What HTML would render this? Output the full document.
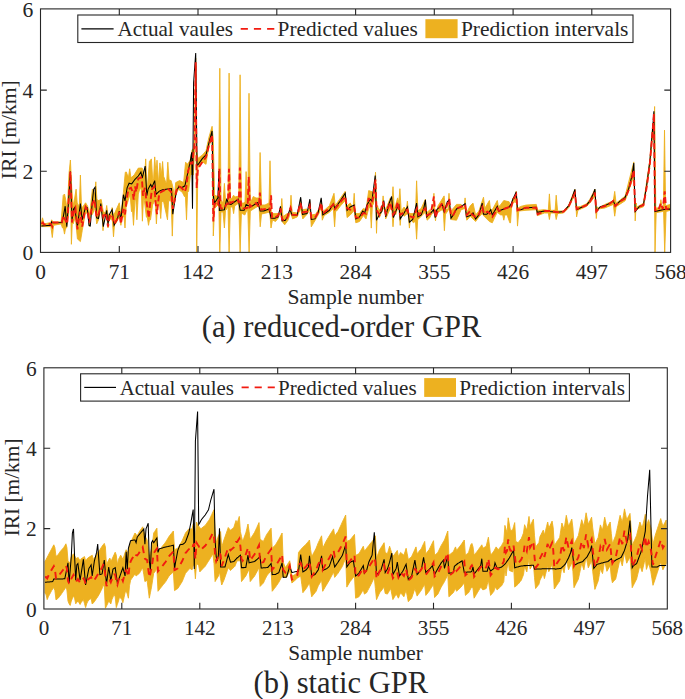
<!DOCTYPE html>
<html><head><meta charset="utf-8"><title>GPR prediction of IRI</title>
<style>
html,body{margin:0;padding:0;background:#fff;}
svg{display:block;}
svg{font-size:21.6px;}
text{font-family:"Liberation Serif","Times New Roman",serif;fill:#262626;}
</style></head>
<body>
<svg width="685" height="699" viewBox="0 0 685 699">
<rect width="685" height="699" fill="#fff"/>
<g style="font-size:21.60px">
<clipPath id="cp1"><rect x="40.5" y="8.9" width="630.1" height="243.5"/></clipPath>
<g clip-path="url(#cp1)">
<path d="M41.4,222.5 L42.5,217.8 L44.1,223.9 L50.9,222.5 L51.6,219.8 L53.0,221.9 L61.1,221.9 L63.2,195.4 L64.5,194.0 L65.9,200.8 L67.2,211.7 L69.0,173.6 L70.4,160.0 L71.7,187.2 L73.1,206.2 L74.7,198.1 L76.1,189.2 L77.2,203.0 L78.1,204.9 L79.3,205.7 L80.4,175.0 L81.5,207.1 L82.2,207.6 L85.6,202.8 L87.6,206.2 L89.7,214.4 L92.4,189.2 L94.7,194.1 L95.8,181.8 L96.9,198.8 L97.8,200.8 L101.2,199.4 L103.3,211.7 L105.6,212.8 L106.7,205.5 L107.8,213.9 L108.7,214.4 L111.0,214.4 L112.1,207.6 L113.2,214.4 L114.1,214.4 L119.3,202.8 L120.4,212.0 L121.2,211.7 L123.4,192.6 L125.3,172.2 L126.4,172.0 L127.7,176.0 L128.6,176.3 L129.7,168.8 L130.8,177.0 L131.7,177.3 L134.3,174.7 L138.3,168.1 L142.2,168.1 L144.6,176.7 L145.7,158.9 L146.8,184.4 L147.5,186.5 L149.4,161.5 L151.4,158.9 L152.7,179.9 L153.6,178.2 L154.7,156.9 L156.0,173.4 L157.0,160.2 L158.4,181.2 L158.8,180.4 L159.9,162.9 L161.2,176.0 L162.6,161.5 L163.7,177.1 L164.1,177.3 L165.8,182.6 L166.7,181.9 L167.8,162.2 L169.1,179.9 L171.1,180.6 L172.4,185.2 L174.4,195.7 L175.7,182.6 L179.6,180.6 L183.6,182.6 L185.6,162.2 L187.5,164.2 L190.2,160.2 L192.1,149.7 L193.3,149.0 L194.5,140.0 L195.7,58.0 L196.7,150.0 L197.9,158.4 L202.5,154.9 L206.0,150.8 L208.9,137.4 L212.1,126.3 L213.3,140.0 L214.6,195.0 L216.5,196.0 L218.5,196.0 L219.8,68.3 L221.0,200.0 L223.0,203.0 L224.4,183.4 L225.5,200.5 L226.0,200.0 L228.0,200.0 L229.1,73.1 L230.3,200.0 L232.0,198.0 L233.6,195.2 L235.0,197.0 L238.8,196.0 L240.1,74.8 L241.4,203.0 L244.0,203.0 L245.0,202.1 L246.1,171.6 L247.5,200.0 L247.9,200.4 L249.0,93.3 L250.3,203.0 L253.3,196.5 L256.0,198.0 L258.5,198.0 L259.0,199.2 L260.1,152.5 L261.5,205.0 L265.0,205.0 L269.0,203.0 L270.0,160.8 L271.3,212.0 L272.6,213.6 L278.1,213.6 L280.7,214.9 L281.8,198.5 L282.9,216.0 L283.4,216.2 L287.3,213.6 L289.9,213.0 L291.0,195.2 L292.1,212.4 L292.6,212.3 L297.2,213.0 L299.4,211.6 L300.5,197.9 L301.6,210.2 L302.5,209.7 L307.0,209.0 L308.6,211.2 L309.7,200.5 L310.8,214.3 L311.3,214.9 L315.6,214.3 L318.9,209.0 L320.1,209.6 L321.2,199.2 L322.3,210.5 L323.5,211.0 L329.4,205.7 L334.0,193.3 L335.1,204.6 L336.0,204.4 L340.6,197.9 L345.2,191.3 L346.3,204.7 L347.1,205.7 L350.3,203.1 L353.1,208.5 L354.2,193.3 L355.3,212.7 L355.8,213.6 L359.5,213.6 L363.4,208.4 L366.0,209.7 L368.7,190.6 L372.6,191.9 L374.4,197.8 L375.5,172.2 L376.6,205.1 L377.2,207.0 L379.8,209.7 L382.0,209.7 L383.1,195.9 L384.2,209.7 L385.7,209.7 L390.3,197.9 L391.9,202.4 L393.0,186.7 L394.3,209.7 L397.6,197.9 L398.8,202.4 L399.9,188.7 L401.2,211.0 L404.1,207.0 L406.3,209.8 L407.4,201.1 L408.5,212.5 L409.4,213.6 L413.3,213.6 L415.5,212.4 L416.6,180.8 L417.9,211.0 L421.2,208.4 L425.4,199.2 L426.5,211.9 L427.1,212.3 L429.8,209.9 L430.9,210.3 L432.8,212.3 L433.9,193.3 L435.0,214.5 L435.5,214.9 L438.1,205.7 L444.1,195.9 L445.4,208.4 L447.9,209.6 L449.0,193.3 L450.1,210.6 L451.0,211.0 L456.5,204.4 L461.1,204.4 L464.0,208.4 L465.1,197.9 L466.2,211.5 L466.8,212.3 L470.3,205.7 L473.0,203.1 L475.6,214.9 L478.9,211.0 L483.5,197.2 L484.8,208.4 L489.4,200.5 L490.5,209.4 L492.3,209.7 L497.3,200.5 L498.4,206.5 L499.9,205.7 L503.8,200.5 L509.1,201.8 L510.9,207.0 L512.9,197.9 L515.1,202.8 L516.2,191.3 L517.5,208.4 L520.8,206.4 L526.0,205.1 L536.3,204.4 L537.6,210.3 L544.4,209.7 L547.7,210.3 L548.3,210.3 L549.4,193.9 L550.5,210.3 L551.0,210.3 L554.7,210.3 L555.1,210.4 L556.2,195.2 L557.6,211.0 L563.5,211.0 L568.7,205.1 L574.9,189.3 L576.0,206.8 L577.0,207.0 L580.6,206.4 L586.5,203.8 L589.8,199.4 L593.3,192.6 L594.9,189.1 L596.3,209.1 L605.0,204.4 L613.3,200.8 L614.7,191.4 L616.1,203.2 L625.1,196.1 L633.8,161.9 L634.9,207.3 L635.5,207.9 L643.5,203.2 L649.9,159.6 L652.9,123.0 L653.5,139.5 L654.6,106.5 L655.8,207.9 L659.3,207.9 L659.8,207.7 L660.9,199.7 L662.0,207.0 L662.8,206.7 L663.4,206.5 L664.5,130.1 L665.6,205.8 L666.1,205.6 L670.4,204.4 L670.4,210.3 L666.1,211.5 L664.7,252.7 L663.6,211.5 L662.8,211.5 L656.2,212.6 L655.0,252.7 L653.9,118.3 L652.9,131.3 L649.9,166.7 L643.5,206.7 L636.9,209.1 L636.3,203.0 L635.2,220.9 L633.8,174.9 L632.2,180.8 L625.1,200.8 L616.1,206.7 L614.7,216.2 L613.3,204.4 L605.0,207.9 L598.0,209.1 L597.4,206.8 L596.3,218.5 L594.9,196.1 L593.3,198.5 L589.8,203.1 L586.5,206.4 L577.9,210.3 L576.6,216.9 L575.3,195.2 L573.3,197.9 L568.7,207.7 L563.5,213.0 L557.6,213.6 L556.2,219.5 L555.1,213.1 L554.7,213.0 L551.0,213.0 L550.5,213.0 L549.4,219.5 L548.3,213.0 L547.7,213.0 L544.4,213.0 L537.6,215.6 L536.3,209.7 L526.0,210.3 L518.8,211.0 L517.5,226.1 L516.2,196.5 L514.2,200.5 L511.6,207.0 L510.5,222.8 L509.8,222.8 L507.1,214.9 L504.9,214.9 L503.8,220.2 L502.7,214.9 L500.6,214.9 L497.3,212.3 L494.6,217.6 L492.3,222.8 L489.4,221.5 L484.1,216.2 L482.2,213.6 L478.9,216.9 L475.6,221.5 L470.3,216.2 L466.8,220.2 L465.1,208.4 L461.1,209.7 L456.5,220.2 L451.0,219.5 L449.3,208.4 L446.0,213.6 L445.5,213.1 L444.4,230.7 L443.3,210.9 L442.1,209.7 L438.1,212.3 L436.6,211.8 L435.5,220.8 L434.4,211.1 L433.9,211.0 L430.9,215.6 L429.8,217.8 L427.1,220.2 L425.4,212.3 L423.8,213.6 L418.6,218.9 L417.7,219.5 L416.6,239.2 L415.5,221.2 L413.3,222.8 L410.5,218.4 L409.4,228.1 L408.3,215.0 L407.4,213.6 L404.1,216.2 L401.3,212.8 L400.2,225.4 L399.1,210.2 L397.6,208.4 L395.6,214.9 L394.1,213.0 L393.0,226.8 L391.9,210.3 L390.3,208.4 L385.7,218.9 L384.6,208.4 L383.1,208.4 L379.4,217.6 L377.6,205.6 L376.5,233.3 L375.5,191.3 L373.3,204.4 L372.4,205.2 L371.3,228.1 L370.2,207.1 L368.7,208.4 L366.0,218.9 L363.4,215.6 L359.5,221.5 L355.8,222.8 L354.2,210.3 L350.3,214.9 L347.1,217.6 L345.2,200.5 L340.6,205.7 L336.6,211.0 L335.7,210.3 L334.6,226.8 L333.3,208.4 L329.4,212.3 L324.1,215.6 L322.3,220.2 L321.2,207.0 L318.9,213.6 L315.6,219.5 L311.3,226.8 L310.2,210.5 L309.7,209.7 L307.0,214.3 L302.8,218.9 L300.5,208.4 L297.2,216.9 L292.6,218.9 L290.6,212.3 L288.0,220.2 L284.7,224.8 L282.1,221.5 L280.5,212.3 L278.1,218.2 L275.5,221.5 L272.9,220.2 L272.3,221.0 L271.0,228.0 L269.9,213.3 L269.5,212.0 L266.0,213.0 L261.5,214.0 L260.2,226.8 L259.1,207.6 L258.5,206.0 L255.0,208.0 L250.3,211.0 L249.1,252.4 L247.8,210.0 L246.5,211.0 L244.8,215.0 L241.4,213.0 L240.1,252.4 L238.8,203.0 L236.0,205.0 L234.7,205.7 L233.6,213.6 L232.5,206.8 L232.0,207.0 L230.3,207.0 L229.1,252.4 L228.0,207.0 L226.0,210.0 L225.5,210.3 L224.4,228.0 L223.0,212.0 L221.0,212.0 L219.8,252.4 L218.8,203.0 L217.0,206.0 L214.6,208.0 L213.3,236.0 L212.1,137.4 L208.9,146.7 L207.2,156.0 L206.0,164.3 L202.5,161.9 L197.9,167.8 L196.7,252.4 L195.7,66.0 L194.5,152.0 L193.3,175.0 L192.0,175.0 L190.6,173.6 L188.6,191.3 L187.6,192.5 L186.5,219.8 L185.4,195.5 L184.5,196.7 L182.5,192.6 L178.4,189.2 L175.7,195.4 L174.0,204.9 L173.4,204.2 L172.3,236.1 L171.2,201.8 L170.2,200.8 L168.6,200.8 L167.5,219.8 L163.4,200.8 L161.8,202.4 L160.7,218.5 L159.6,204.6 L158.0,206.2 L157.5,205.4 L156.4,223.9 L155.3,201.9 L154.6,200.8 L152.6,204.9 L150.5,219.8 L149.6,219.2 L148.5,225.3 L147.4,217.7 L146.4,217.1 L144.4,200.8 L143.5,197.7 L142.4,221.2 L141.3,190.3 L140.3,187.2 L138.3,194.0 L136.9,219.8 L135.8,198.9 L134.9,200.8 L133.5,225.3 L132.4,208.7 L131.5,211.7 L130.1,194.0 L128.1,200.8 L126.1,207.6 L125.0,228.0 L123.9,215.3 L123.4,217.1 L122.0,217.1 L120.9,225.3 L119.8,217.1 L119.3,217.1 L115.5,223.9 L114.6,223.0 L113.5,236.8 L112.4,220.8 L110.1,218.5 L109.1,218.2 L108.0,228.0 L106.9,217.4 L106.0,217.1 L104.1,214.1 L103.0,230.7 L101.9,210.6 L100.8,208.9 L98.5,219.8 L96.7,223.9 L95.1,207.6 L92.4,214.4 L90.5,214.4 L89.4,226.6 L88.3,214.4 L87.6,214.4 L85.6,211.7 L82.2,230.7 L80.4,241.6 L77.4,238.9 L75.4,217.1 L73.1,223.9 L72.5,216.7 L71.4,244.3 L70.4,187.2 L68.6,214.4 L66.6,228.0 L65.6,228.0 L64.5,234.1 L63.4,228.0 L62.5,228.0 L61.1,223.9 L53.6,225.3 L52.3,237.5 L50.9,226.6 L41.4,226.6Z" fill="#EDB120" stroke="#EDB120" stroke-width="0.9" stroke-linejoin="miter"/>
<path d="M41.4,225.9 L50.9,225.3 L51.6,221.9 L52.4,222.8 L61.8,222.5 L63.2,217.1 L65.2,206.2 L66.8,226.6 L68.6,200.8 L70.4,171.6 L72.0,219.8 L73.6,208.9 L74.7,207.6 L77.4,226.6 L80.4,203.5 L82.2,219.8 L85.6,206.9 L87.2,207.6 L89.0,225.3 L90.3,225.9 L92.4,200.8 L93.7,189.2 L95.1,187.2 L96.7,217.8 L98.5,218.5 L100.8,203.5 L103.3,226.6 L106.7,210.3 L108.0,223.9 L109.4,214.4 L112.1,209.6 L114.1,225.3 L117.5,218.5 L119.3,211.0 L120.9,219.8 L123.4,194.7 L125.0,200.8 L127.1,187.8 L129.1,183.2 L131.7,183.9 L135.0,179.3 L138.3,176.0 L140.9,172.0 L142.2,178.0 L145.2,166.1 L146.8,195.7 L148.1,189.1 L150.7,184.5 L152.0,187.2 L154.7,180.6 L156.0,194.4 L159.3,191.1 L162.6,189.8 L167.8,188.9 L171.5,188.5 L172.8,214.1 L174.4,203.6 L176.4,191.1 L179.0,186.5 L181.6,187.8 L184.9,185.8 L187.5,174.0 L190.2,161.5 L191.7,152.3 L192.5,208.8 L193.6,82.8 L195.7,53.0 L197.0,165.4 L197.9,164.8 L202.5,158.4 L206.0,154.9 L208.9,143.2 L212.1,131.0 L213.0,180.0 L213.6,197.9 L214.6,203.1 L217.9,197.9 L218.9,170.9 L219.4,210.3 L224.4,209.7 L226.8,198.5 L228.4,203.8 L231.0,204.4 L238.2,199.2 L240.2,210.3 L244.1,210.3 L246.1,204.4 L250.7,207.0 L257.9,202.5 L260.2,211.0 L263.8,211.0 L269.1,209.0 L271.1,218.2 L274.9,218.2 L278.1,216.9 L280.5,206.4 L282.1,220.8 L285.4,220.2 L287.3,216.9 L290.0,209.0 L291.9,214.9 L297.2,214.9 L300.7,197.2 L302.5,214.3 L307.0,213.6 L309.9,199.2 L311.3,219.5 L314.9,218.9 L318.2,212.3 L321.2,197.9 L322.8,214.9 L329.4,210.3 L333.3,203.8 L334.9,208.4 L340.6,200.5 L345.2,193.3 L347.1,210.3 L350.3,207.0 L354.2,205.1 L355.8,218.9 L359.5,216.9 L362.7,211.0 L364.7,213.0 L366.7,205.7 L370.0,199.2 L371.9,201.1 L375.2,175.5 L376.5,220.2 L379.8,213.6 L381.8,211.6 L383.8,200.5 L385.7,216.9 L388.4,205.7 L391.6,196.5 L393.4,217.6 L396.9,208.4 L398.9,205.1 L400.2,218.9 L404.1,213.0 L407.4,207.0 L409.4,222.2 L412.7,219.5 L416.6,203.1 L417.9,216.9 L421.2,214.9 L423.8,208.4 L425.4,199.8 L426.7,216.9 L429.8,213.4 L430.3,213.6 L433.5,209.7 L435.2,217.6 L436.8,209.7 L442.1,204.4 L444.1,211.6 L447.3,201.8 L449.3,199.8 L451.0,218.2 L453.3,214.9 L456.5,209.0 L460.5,207.0 L465.1,203.8 L466.4,216.9 L470.3,215.6 L473.0,213.0 L475.6,218.9 L478.9,214.9 L482.2,203.1 L483.5,214.3 L486.8,214.3 L489.4,211.6 L490.7,209.7 L492.3,214.9 L497.3,206.4 L498.6,211.0 L503.8,209.0 L509.1,207.0 L510.9,204.4 L512.9,199.2 L516.2,191.9 L517.5,209.7 L520.8,209.7 L526.0,207.7 L536.3,207.3 L537.2,212.3 L544.4,211.0 L549.7,211.6 L557.6,212.3 L563.5,211.6 L565.4,209.7 L568.7,205.7 L572.0,197.9 L574.9,189.3 L576.6,209.7 L580.6,207.7 L586.5,205.1 L589.8,201.1 L593.3,193.8 L594.9,189.1 L596.3,211.5 L600.3,206.7 L605.0,205.6 L609.8,203.2 L613.3,200.8 L615.2,205.6 L620.4,200.8 L625.1,197.3 L628.6,189.1 L632.2,174.9 L633.8,163.1 L635.2,211.5 L639.2,206.7 L643.5,204.4 L646.8,184.3 L649.9,160.8 L652.9,125.4 L653.9,111.2 L655.0,211.5 L660.5,210.3 L666.4,209.1 L670.4,209.1" fill="none" stroke="#000" stroke-width="1.05" stroke-linejoin="miter"/>
<path d="M41.4,223.9 L42.8,222.5 L44.1,224.6 L50.9,223.9 L52.3,226.6 L53.0,222.5 L61.8,222.5 L63.2,215.7 L65.2,219.8 L67.2,223.9 L68.6,200.8 L70.4,171.6 L71.3,200.8 L72.0,222.5 L74.0,210.3 L75.4,207.6 L77.4,229.3 L80.1,211.7 L82.2,226.6 L85.6,206.9 L87.6,210.3 L89.4,222.5 L92.4,203.5 L94.4,199.4 L96.5,217.1 L98.5,214.4 L100.8,206.2 L103.3,217.1 L106.0,213.0 L108.0,226.6 L110.1,214.4 L112.8,217.1 L114.1,223.9 L116.9,219.8 L119.3,211.7 L120.9,223.9 L123.4,208.9 L125.0,214.4 L126.4,201.0 L128.4,189.1 L131.0,187.8 L132.6,191.8 L133.7,199.6 L135.0,186.5 L136.3,191.8 L138.3,178.6 L140.9,177.3 L142.2,182.6 L142.9,195.7 L144.8,187.8 L146.8,203.6 L148.8,218.0 L150.1,203.6 L152.0,189.1 L154.4,186.5 L155.7,203.6 L157.0,214.1 L158.0,203.6 L159.3,193.1 L162.6,191.1 L167.8,188.5 L171.1,191.8 L172.8,208.8 L174.4,201.0 L176.4,190.4 L179.0,186.5 L181.6,187.8 L184.9,191.8 L186.2,187.8 L188.2,170.7 L190.8,162.9 L192.5,163.5 L193.3,154.0 L194.5,146.0 L195.7,62.3 L196.7,188.0 L197.9,169.0 L202.5,161.9 L206.0,157.2 L208.9,145.6 L212.1,135.0 L213.3,221.5 L214.6,204.4 L216.5,201.8 L218.3,204.4 L219.4,168.9 L220.5,207.5 L221.1,208.4 L224.4,208.4 L226.4,204.4 L227.9,203.9 L229.0,168.9 L230.3,203.1 L237.6,199.8 L238.8,202.6 L239.9,167.6 L241.0,207.3 L241.5,208.4 L245.4,208.4 L247.6,207.7 L248.7,176.8 L250.0,207.0 L256.0,203.1 L258.8,206.7 L259.9,192.6 L261.2,209.7 L269.1,208.4 L270.0,211.1 L271.1,195.2 L272.0,217.6 L274.9,217.6 L278.1,215.6 L280.5,208.4 L282.1,219.5 L284.7,220.2 L287.3,217.6 L290.6,207.7 L292.6,214.9 L297.2,214.9 L300.5,203.1 L302.5,212.3 L307.0,211.6 L309.7,205.7 L311.3,217.6 L315.6,216.9 L318.9,211.0 L321.2,203.1 L322.8,213.6 L329.4,208.4 L333.3,204.4 L334.9,209.0 L340.6,201.8 L345.2,196.5 L347.1,208.4 L350.3,209.7 L354.2,207.0 L355.8,217.6 L359.5,217.6 L363.4,213.0 L366.0,213.6 L368.7,197.9 L371.3,207.0 L373.3,196.5 L375.5,179.5 L376.5,209.7 L379.4,214.9 L383.1,201.8 L385.7,213.6 L390.3,202.5 L393.0,214.9 L395.6,211.0 L397.6,201.8 L400.2,214.9 L404.1,212.3 L407.4,209.7 L409.4,216.2 L413.3,217.6 L417.0,208.4 L418.6,214.9 L423.8,209.7 L425.4,208.4 L427.1,215.6 L429.8,213.9 L430.9,213.0 L433.9,196.5 L435.5,217.6 L438.1,209.7 L442.1,203.1 L444.7,211.0 L447.3,204.4 L449.3,199.2 L451.0,215.6 L453.3,214.9 L456.5,208.4 L461.1,207.0 L465.1,204.4 L466.8,214.9 L470.3,211.0 L472.3,214.9 L475.6,216.9 L478.9,214.3 L482.2,207.0 L484.1,213.6 L487.4,211.6 L489.4,213.0 L492.3,216.9 L494.6,213.6 L497.3,208.4 L499.2,211.0 L503.8,209.0 L509.1,207.0 L510.9,208.4 L512.9,200.5 L516.2,194.6 L517.5,210.3 L520.8,209.0 L526.0,207.7 L536.3,207.7 L537.6,214.3 L544.4,211.0 L549.7,211.0 L557.6,212.3 L563.5,211.6 L565.4,209.7 L568.7,206.4 L572.0,199.2 L574.9,193.3 L576.6,209.0 L580.6,207.7 L586.5,205.1 L589.8,201.8 L593.3,196.1 L594.9,192.6 L596.3,211.5 L600.3,207.5 L605.0,206.0 L609.8,203.7 L613.3,200.8 L615.2,206.0 L620.4,201.3 L625.1,198.5 L628.6,190.2 L632.2,177.3 L633.8,170.2 L635.2,210.3 L639.2,206.7 L643.5,205.1 L646.8,186.7 L649.9,163.1 L652.9,127.7 L653.9,113.6 L655.0,210.3 L658.1,210.8 L660.9,203.2 L662.8,209.1 L664.7,191.4 L666.1,209.1 L670.4,207.9" fill="none" stroke="#f21b10" stroke-width="1.9" stroke-dasharray="6 3" stroke-linejoin="miter"/>
</g>
<rect x="40.5" y="8.9" width="630.1" height="243.5" fill="none" stroke="#262626" stroke-width="1.1"/>
<text x="40.5" y="278.9" text-anchor="middle" style="font-size:21.34px">0</text>
<text x="119.3" y="278.9" text-anchor="middle" style="font-size:21.34px">71</text>
<text x="198.0" y="278.9" text-anchor="middle" style="font-size:21.34px">142</text>
<text x="276.8" y="278.9" text-anchor="middle" style="font-size:21.34px">213</text>
<text x="355.6" y="278.9" text-anchor="middle" style="font-size:21.34px">284</text>
<text x="434.3" y="278.9" text-anchor="middle" style="font-size:21.34px">355</text>
<text x="513.1" y="278.9" text-anchor="middle" style="font-size:21.34px">426</text>
<text x="591.8" y="278.9" text-anchor="middle" style="font-size:21.34px">497</text>
<text x="670.6" y="278.9" text-anchor="middle" style="font-size:21.34px">568</text>
<text x="33.3" y="260.1" text-anchor="end">0</text>
<text x="33.3" y="178.9" text-anchor="end">2</text>
<text x="33.3" y="97.8" text-anchor="end">4</text>
<text x="33.3" y="16.6" text-anchor="end">6</text>
<path d="M119.3,252.4 v-6.3 M119.3,8.9 v6.3 M198.0,252.4 v-6.3 M198.0,8.9 v6.3 M276.8,252.4 v-6.3 M276.8,8.9 v6.3 M355.6,252.4 v-6.3 M355.6,8.9 v6.3 M434.3,252.4 v-6.3 M434.3,8.9 v6.3 M513.1,252.4 v-6.3 M513.1,8.9 v6.3 M591.8,252.4 v-6.3 M591.8,8.9 v6.3 M40.5,171.2 h6.3 M670.6,171.2 h-6.3 M40.5,90.1 h6.3 M670.6,90.1 h-6.3" stroke="#262626" stroke-width="1.1" fill="none"/>
<text x="355.6" y="304.1" text-anchor="middle">Sample number</text>
<text transform="translate(15.7,129.7) rotate(-90)" text-anchor="middle">IRI [m/km]</text>
<text x="341.5" y="336.8" text-anchor="middle" style="font-size:30.5px">(a) reduced-order GPR</text>
<rect x="77.8" y="15.0" width="555.2" height="27.5" fill="#fff" stroke="#262626" stroke-width="1.1"/>
<path d="M81.4,28.8 h32.2" stroke="#000" stroke-width="1.15"/>
<text x="117.4" y="36.1" style="font-size:21.40px" textLength="115.6" lengthAdjust="spacingAndGlyphs">Actual vaules</text>
<path d="M240.7,28.8 h33.6" stroke="#f21b10" stroke-width="1.8" stroke-dasharray="7.20 6.00"/>
<text x="277.6" y="36.1" style="font-size:21.40px" textLength="140.1" lengthAdjust="spacingAndGlyphs">Predicted values</text>
<rect x="425.4" y="19.2" width="32.2" height="19.0" fill="#EDB120"/>
<text x="460.9" y="36.1" style="font-size:21.40px" textLength="167.6" lengthAdjust="spacingAndGlyphs">Prediction intervals</text>
</g>
<g style="font-size:21.35px">
<clipPath id="cp2"><rect x="43.9" y="367.8" width="623.4" height="241.2"/></clipPath>
<g clip-path="url(#cp2)">
<path d="M45.0,561.5 L46.1,559.4 L47.2,557.3 L48.3,555.2 L49.4,553.1 L50.5,551.1 L51.6,549.0 L52.7,546.9 L53.8,544.8 L54.9,547.6 L56.0,556.6 L57.1,555.6 L58.2,554.5 L59.3,552.9 L60.4,551.3 L61.5,550.1 L62.6,548.8 L63.7,547.6 L64.8,545.7 L65.9,543.8 L66.9,547.6 L68.0,560.8 L69.1,562.9 L70.2,561.5 L71.3,556.6 L72.4,555.2 L73.5,553.8 L74.6,555.9 L75.7,557.5 L76.8,559.1 L77.9,557.3 L79.0,559.0 L80.1,560.8 L81.2,558.7 L82.3,558.0 L83.4,557.3 L84.5,556.6 L85.6,560.8 L86.7,559.4 L87.8,558.0 L88.9,557.3 L90.0,556.6 L91.1,555.9 L92.2,555.2 L93.3,559.4 L94.4,558.0 L95.5,556.6 L96.6,554.5 L97.7,552.4 L98.8,551.1 L99.9,549.7 L101.0,547.9 L102.1,546.2 L103.2,544.8 L104.3,543.4 L105.4,546.9 L106.5,566.3 L107.6,562.2 L108.7,560.1 L109.8,558.0 L110.8,560.8 L111.9,559.4 L113.0,557.0 L114.1,554.6 L115.2,552.2 L116.3,555.2 L117.4,564.9 L118.5,559.4 L119.6,557.3 L120.7,555.2 L121.8,557.3 L122.9,559.4 L124.0,555.9 L125.1,552.4 L126.2,549.7 L127.3,551.8 L128.4,555.2 L129.5,545.5 L130.6,542.7 L131.7,540.0 L132.8,537.7 L133.9,535.3 L135.0,533.0 L136.1,534.4 L137.2,535.8 L138.3,533.7 L139.4,531.6 L140.5,530.0 L141.6,528.4 L142.7,526.8 L143.8,531.3 L144.9,535.8 L146.0,537.9 L147.1,540.0 L148.2,548.3 L149.3,556.6 L150.4,553.8 L151.5,548.3 L152.6,542.7 L153.7,533.0 L154.8,531.4 L155.8,529.8 L156.9,528.2 L158.0,551.1 L159.1,549.9 L160.2,548.7 L161.3,547.6 L162.4,546.2 L163.5,544.8 L164.6,543.4 L165.7,542.0 L166.8,540.2 L167.9,538.3 L169.0,536.5 L170.1,535.1 L171.2,533.7 L172.3,532.3 L173.4,531.0 L174.5,549.7 L175.6,549.2 L176.7,548.7 L177.8,548.3 L178.9,546.4 L180.0,544.5 L181.1,542.6 L182.2,540.7 L183.3,538.1 L184.4,535.6 L185.5,533.0 L186.6,531.6 L187.7,530.3 L188.8,528.9 L189.9,528.9 L191.0,528.9 L192.1,528.9 L193.2,524.0 L194.3,523.3 L195.4,540.0 L196.5,522.0 L197.6,524.7 L198.7,526.1 L199.8,527.5 L200.8,528.9 L201.9,528.0 L203.0,527.1 L204.1,526.3 L205.2,525.4 L206.3,523.9 L207.4,522.3 L208.5,520.8 L209.6,519.2 L210.7,516.8 L211.8,514.4 L212.9,512.0 L214.0,509.7 L215.1,530.0 L216.2,542.7 L217.3,539.3 L218.4,535.8 L219.5,533.7 L220.6,531.6 L221.7,546.9 L222.8,543.4 L223.9,540.0 L225.0,536.8 L226.1,533.7 L227.2,530.6 L228.3,527.5 L229.4,528.9 L230.5,530.3 L231.6,529.3 L232.7,528.4 L233.8,527.5 L234.9,524.0 L236.0,520.5 L237.1,523.3 L238.2,519.9 L239.3,516.4 L240.4,531.6 L241.5,536.5 L242.6,541.4 L243.7,538.6 L244.7,535.8 L245.8,533.0 L246.9,528.5 L248.0,524.0 L249.1,531.6 L250.2,539.3 L251.3,537.5 L252.4,535.8 L253.5,534.1 L254.6,532.3 L255.7,529.9 L256.8,527.5 L257.9,525.1 L259.0,522.6 L260.1,539.3 L261.2,540.0 L262.3,540.7 L263.4,541.4 L264.5,539.0 L265.6,536.7 L266.7,534.4 L267.8,532.9 L268.9,531.3 L270.0,529.7 L271.1,528.2 L272.2,548.3 L273.3,547.1 L274.4,546.0 L275.5,544.8 L276.6,543.0 L277.7,541.1 L278.8,539.3 L279.9,537.2 L281.0,535.1 L282.1,533.0 L283.2,562.2 L284.3,564.9 L285.4,567.7 L286.5,566.0 L287.6,564.2 L288.7,562.5 L289.7,560.8 L290.8,568.4 L291.9,576.0 L293.0,575.6 L294.1,575.1 L295.2,574.6 L296.3,573.3 L297.4,571.9 L298.5,552.4 L299.6,551.1 L300.7,549.7 L301.8,548.3 L302.9,547.2 L304.0,546.2 L305.1,545.2 L306.2,544.1 L307.3,542.7 L308.4,541.4 L309.5,540.0 L310.6,549.7 L311.7,556.6 L312.8,554.5 L313.9,552.4 L315.0,550.4 L316.1,548.3 L317.2,545.5 L318.3,542.7 L319.4,540.4 L320.5,538.1 L321.6,535.8 L322.7,548.3 L323.8,546.0 L324.9,543.7 L326.0,541.4 L327.1,539.5 L328.2,537.7 L329.3,535.8 L330.4,534.1 L331.5,532.3 L332.6,530.6 L333.6,528.9 L334.7,535.8 L335.8,534.4 L336.9,533.0 L338.0,531.6 L339.1,529.2 L340.2,526.8 L341.3,524.4 L342.4,521.9 L343.5,519.6 L344.6,517.3 L345.7,515.0 L346.8,541.4 L347.9,540.9 L349.0,540.4 L350.1,540.0 L351.2,538.6 L352.3,537.2 L353.4,535.8 L354.5,534.4 L355.6,555.2 L356.7,554.8 L357.8,554.3 L358.9,553.8 L360.0,551.9 L361.1,550.0 L362.2,548.1 L363.3,546.2 L364.4,551.1 L365.5,549.7 L366.6,548.3 L367.7,546.9 L368.8,545.5 L369.9,544.1 L371.0,542.7 L372.1,541.4 L373.2,540.0 L374.3,537.9 L375.4,535.8 L376.5,558.0 L377.6,555.2 L378.6,552.4 L379.7,549.7 L380.8,547.9 L381.9,546.2 L383.0,544.5 L384.1,542.7 L385.2,552.4 L386.3,553.1 L387.4,553.8 L388.5,550.0 L389.6,546.2 L390.7,549.7 L391.8,553.1 L392.9,556.6 L394.0,555.0 L395.1,553.5 L396.2,551.9 L397.3,550.4 L398.4,556.6 L399.5,554.5 L400.6,552.4 L401.7,553.4 L402.8,554.3 L403.9,555.2 L405.0,551.8 L406.1,548.3 L407.2,553.8 L408.3,559.4 L409.4,558.5 L410.5,557.5 L411.6,556.6 L412.7,554.2 L413.8,551.8 L414.9,549.3 L416.0,546.9 L417.1,553.8 L418.2,552.4 L419.3,551.1 L420.4,549.7 L421.5,548.3 L422.5,546.0 L423.6,543.7 L424.7,541.4 L425.8,553.8 L426.9,552.4 L428.0,551.1 L429.1,549.7 L430.2,547.4 L431.3,545.2 L432.4,542.9 L433.5,540.7 L434.6,555.2 L435.7,554.3 L436.8,553.4 L437.9,552.4 L439.0,550.1 L440.1,547.8 L441.2,545.5 L442.3,543.7 L443.4,541.8 L444.5,540.0 L445.6,537.0 L446.7,534.0 L447.8,531.0 L448.9,555.2 L450.0,554.4 L451.1,553.5 L452.2,552.6 L453.3,551.8 L454.4,549.3 L455.5,546.9 L456.6,550.4 L457.7,549.0 L458.8,547.6 L459.9,546.2 L461.0,544.8 L462.1,543.2 L463.2,541.6 L464.3,540.0 L465.4,555.2 L466.5,554.3 L467.5,553.4 L468.6,552.4 L469.7,548.6 L470.8,544.8 L471.9,543.4 L473.0,546.9 L474.1,555.2 L475.2,553.8 L476.3,552.4 L477.4,551.1 L478.5,549.5 L479.6,547.9 L480.7,546.4 L481.8,544.8 L482.9,548.3 L484.0,547.6 L485.1,546.9 L486.2,546.2 L487.3,541.7 L488.4,537.2 L489.5,546.2 L490.6,555.2 L491.7,553.8 L492.8,552.4 L493.9,551.1 L495.0,549.0 L496.1,546.9 L497.2,548.3 L498.3,549.7 L499.4,548.3 L500.5,546.9 L501.6,545.5 L502.7,543.4 L503.8,541.4 L504.9,525.4 L506.0,529.2 L507.1,533.0 L508.2,517.8 L509.3,524.0 L510.4,530.3 L511.4,530.3 L512.5,530.3 L513.6,526.4 L514.7,522.6 L515.8,541.4 L516.9,542.0 L518.0,542.7 L519.1,541.4 L520.2,540.0 L521.3,538.6 L522.4,535.8 L523.5,533.0 L524.6,524.7 L525.7,527.5 L526.8,530.3 L527.9,523.3 L529.0,516.4 L530.1,526.1 L531.2,523.8 L532.3,521.5 L533.4,519.2 L534.5,535.8 L535.6,546.9 L536.7,545.5 L537.8,544.1 L538.9,542.7 L540.0,536.5 L541.1,534.4 L542.2,532.2 L543.3,530.1 L544.4,535.1 L545.5,530.8 L546.6,526.4 L547.7,522.0 L548.8,528.2 L549.9,525.8 L551.0,523.4 L552.1,521.1 L553.2,527.8 L554.3,545.5 L555.4,543.9 L556.4,542.3 L557.5,540.7 L558.6,539.1 L559.7,537.4 L560.8,530.2 L561.9,523.0 L563.0,526.2 L564.1,529.3 L565.2,522.3 L566.3,515.3 L567.4,520.8 L568.5,526.3 L569.6,523.9 L570.7,521.5 L571.8,519.1 L572.9,527.8 L574.0,544.2 L575.1,542.0 L576.2,539.8 L577.3,537.7 L578.4,535.5 L579.5,530.2 L580.6,525.0 L581.7,519.7 L582.8,523.0 L583.9,526.3 L585.0,519.5 L586.1,512.8 L587.2,518.6 L588.3,524.3 L589.4,522.0 L590.5,519.6 L591.6,517.2 L592.7,527.8 L593.8,536.0 L594.9,544.2 L596.0,541.9 L597.1,539.7 L598.2,537.4 L599.3,531.2 L600.4,524.9 L601.4,527.5 L602.5,530.1 L603.6,523.7 L604.7,517.2 L605.8,522.5 L606.9,527.8 L608.0,525.9 L609.1,523.9 L610.2,522.0 L611.3,533.6 L612.4,543.6 L613.5,540.9 L614.6,538.2 L615.7,535.5 L616.8,530.5 L617.9,525.4 L619.0,520.3 L620.1,515.3 L621.2,518.8 L622.3,522.4 L623.4,515.7 L624.5,508.9 L625.6,514.3 L626.7,519.7 L627.8,517.6 L628.9,515.5 L630.0,513.4 L631.1,527.8 L632.2,545.5 L633.3,543.0 L634.4,540.5 L635.5,538.0 L636.6,535.5 L637.7,531.0 L638.8,526.5 L639.9,522.0 L641.0,525.1 L642.1,528.2 L643.2,523.6 L644.3,518.9 L645.3,514.3 L646.4,525.9 L647.5,522.8 L648.6,519.7 L649.7,523.8 L650.8,527.8 L651.9,536.0 L653.0,544.2 L654.1,539.8 L655.2,535.5 L656.3,532.1 L657.4,528.7 L658.5,525.3 L659.6,521.9 L660.7,518.6 L661.8,522.4 L662.9,526.3 L664.0,524.2 L665.1,522.2 L666.2,520.1 L666.2,563.6 L665.1,565.7 L664.0,567.7 L662.9,569.8 L661.8,565.9 L660.7,562.1 L659.6,565.4 L658.5,568.8 L657.4,572.2 L656.3,575.6 L655.2,579.0 L654.1,582.2 L653.0,585.3 L651.9,578.3 L650.8,571.3 L649.7,567.3 L648.6,563.2 L647.5,566.3 L646.4,569.4 L645.3,557.8 L644.3,562.4 L643.2,567.1 L642.1,571.7 L641.0,568.6 L639.9,565.5 L638.8,570.0 L637.7,574.5 L636.6,579.0 L635.5,581.2 L634.4,583.4 L633.3,585.5 L632.2,587.7 L631.1,571.3 L630.0,556.9 L628.9,559.0 L627.8,561.1 L626.7,563.2 L625.6,557.8 L624.5,552.4 L623.4,559.2 L622.3,565.9 L621.2,562.3 L620.1,558.8 L619.0,563.8 L617.9,568.9 L616.8,574.0 L615.7,579.0 L614.6,580.3 L613.5,581.5 L612.4,582.8 L611.3,577.1 L610.2,565.5 L609.1,567.4 L608.0,569.4 L606.9,571.3 L605.8,566.0 L604.7,560.7 L603.6,567.2 L602.5,573.6 L601.4,571.0 L600.4,568.4 L599.3,574.7 L598.2,580.9 L597.1,583.8 L596.0,586.6 L594.9,589.4 L593.8,580.4 L592.7,571.3 L591.6,560.7 L590.5,563.1 L589.4,565.5 L588.3,567.8 L587.2,562.1 L586.1,556.3 L585.0,563.0 L583.9,569.8 L582.8,566.5 L581.7,563.2 L580.6,568.5 L579.5,573.7 L578.4,579.0 L577.3,581.2 L576.2,583.3 L575.1,585.5 L574.0,587.7 L572.9,571.3 L571.8,562.6 L570.7,565.0 L569.6,567.4 L568.5,569.8 L567.4,564.3 L566.3,558.8 L565.2,565.8 L564.1,572.8 L563.0,569.7 L561.9,566.5 L560.8,573.7 L559.7,580.9 L558.6,582.6 L557.5,584.2 L556.4,585.8 L555.4,587.4 L554.3,589.0 L553.2,571.3 L552.1,564.6 L551.0,566.9 L549.9,569.3 L548.8,571.7 L547.7,565.5 L546.6,569.9 L545.5,574.3 L544.4,578.6 L543.3,573.6 L542.2,575.7 L541.1,577.9 L540.0,580.0 L538.9,584.3 L537.8,585.7 L536.7,587.1 L535.6,588.5 L534.5,577.4 L533.4,563.5 L532.3,565.4 L531.2,567.2 L530.1,569.1 L529.0,558.0 L527.9,564.9 L526.8,571.9 L525.7,569.1 L524.6,566.3 L523.5,574.6 L522.4,577.4 L521.3,580.2 L520.2,581.6 L519.1,583.0 L518.0,584.3 L516.9,585.3 L515.8,586.2 L514.7,587.1 L513.6,564.9 L512.5,571.9 L511.4,571.4 L510.4,570.9 L509.3,570.5 L508.2,560.8 L507.1,568.4 L506.0,576.0 L504.9,566.3 L503.8,581.6 L502.7,583.7 L501.6,585.7 L500.5,586.8 L499.4,587.8 L498.3,588.9 L497.2,589.9 L496.1,588.5 L495.0,587.1 L493.9,591.3 L492.8,592.7 L491.7,594.1 L490.6,595.4 L489.5,587.8 L488.4,580.2 L487.3,584.3 L486.2,588.5 L485.1,589.0 L484.0,589.4 L482.9,589.9 L481.8,588.5 L480.7,587.1 L479.6,589.0 L478.5,590.8 L477.4,592.7 L476.3,594.5 L475.2,596.4 L474.1,598.2 L473.0,588.5 L471.9,587.1 L470.8,588.5 L469.7,590.6 L468.6,592.7 L467.5,593.6 L466.5,594.5 L465.4,595.4 L464.3,583.0 L463.2,584.3 L462.1,585.7 L461.0,587.1 L459.9,588.2 L458.8,589.2 L457.7,590.2 L456.6,591.3 L455.5,588.5 L454.4,590.6 L453.3,592.7 L452.2,593.7 L451.1,594.8 L450.0,595.8 L448.9,596.8 L447.8,574.6 L446.7,577.0 L445.6,579.3 L444.5,581.6 L443.4,583.4 L442.3,585.3 L441.2,587.1 L440.1,589.4 L439.0,591.7 L437.9,594.1 L436.8,595.2 L435.7,596.4 L434.6,597.5 L433.5,584.3 L432.4,586.1 L431.3,587.8 L430.2,589.5 L429.1,591.3 L428.0,592.7 L426.9,594.1 L425.8,595.4 L424.7,584.3 L423.6,586.2 L422.5,588.0 L421.5,589.9 L420.4,591.5 L419.3,593.0 L418.2,594.6 L417.1,596.1 L416.0,592.3 L414.9,588.5 L413.8,591.7 L412.7,595.0 L411.6,598.2 L410.5,599.4 L409.4,600.5 L408.3,601.7 L407.2,595.8 L406.1,589.9 L405.0,593.4 L403.9,596.8 L402.8,595.4 L401.7,594.1 L400.6,592.7 L399.5,595.4 L398.4,598.2 L397.3,596.1 L396.2,594.1 L395.1,595.9 L394.0,597.8 L392.9,599.6 L391.8,594.1 L390.7,588.5 L389.6,590.4 L388.5,592.2 L387.4,594.1 L386.3,593.7 L385.2,593.4 L384.1,587.1 L383.0,588.5 L381.9,589.9 L380.8,591.3 L379.7,592.7 L378.6,595.0 L377.6,597.3 L376.5,599.6 L375.4,588.5 L374.3,577.4 L373.2,579.7 L372.1,582.0 L371.0,584.3 L369.9,586.4 L368.8,588.5 L367.7,590.6 L366.6,592.7 L365.5,593.4 L364.4,594.1 L363.3,589.9 L362.2,591.6 L361.1,593.4 L360.0,595.1 L358.9,596.8 L357.8,597.3 L356.7,597.8 L355.6,598.2 L354.5,576.0 L353.4,577.4 L352.3,578.8 L351.2,580.2 L350.1,581.6 L349.0,583.4 L347.9,585.3 L346.8,587.1 L345.7,558.0 L344.6,560.8 L343.5,563.5 L342.4,566.3 L341.3,568.1 L340.2,569.8 L339.1,571.5 L338.0,573.3 L336.9,574.6 L335.8,576.0 L334.7,577.4 L333.6,571.9 L332.6,573.9 L331.5,576.0 L330.4,578.1 L329.3,580.2 L328.2,582.0 L327.1,583.9 L326.0,585.7 L324.9,587.6 L323.8,589.4 L322.7,591.3 L321.6,580.2 L320.5,582.0 L319.4,583.9 L318.3,585.7 L317.2,588.5 L316.1,591.3 L315.0,592.7 L313.9,594.1 L312.8,595.4 L311.7,596.8 L310.6,589.9 L309.5,583.0 L308.4,584.8 L307.3,586.7 L306.2,588.5 L305.1,589.9 L304.0,591.3 L302.9,592.7 L301.8,584.3 L300.7,576.0 L299.6,576.7 L298.5,577.4 L297.4,578.1 L296.3,579.1 L295.2,580.2 L294.1,581.1 L293.0,582.0 L291.9,583.0 L290.8,576.7 L289.7,570.5 L288.7,572.8 L287.6,575.1 L286.5,577.4 L285.4,577.4 L284.3,577.4 L283.2,577.4 L282.1,576.0 L281.0,578.1 L279.9,580.2 L278.8,582.3 L277.7,583.9 L276.6,585.5 L275.5,587.1 L274.4,588.5 L273.3,589.9 L272.2,591.3 L271.1,570.5 L270.0,571.9 L268.9,573.3 L267.8,574.6 L266.7,576.0 L265.6,578.3 L264.5,580.6 L263.4,583.0 L262.3,584.1 L261.2,585.3 L260.1,586.4 L259.0,567.7 L257.9,569.8 L256.8,571.9 L255.7,573.9 L254.6,576.0 L253.5,577.4 L252.4,578.8 L251.3,580.2 L250.2,581.6 L249.1,569.1 L248.0,571.4 L246.9,573.7 L245.8,576.0 L244.7,577.4 L243.7,578.8 L242.6,580.2 L241.5,581.6 L240.4,560.8 L239.3,560.8 L238.2,560.8 L237.1,560.8 L236.0,563.5 L234.9,566.3 L233.8,567.4 L232.7,568.4 L231.6,569.4 L230.5,570.5 L229.4,569.1 L228.3,567.7 L227.2,570.8 L226.1,573.9 L225.0,577.1 L223.9,580.2 L222.8,582.6 L221.7,585.0 L220.6,578.5 L219.5,571.9 L218.4,576.0 L217.3,577.9 L216.2,579.7 L215.1,581.6 L214.0,563.5 L212.9,553.8 L211.8,555.7 L210.7,557.5 L209.6,559.4 L208.5,561.1 L207.4,562.8 L206.3,564.6 L205.2,566.3 L204.1,567.4 L203.0,568.5 L201.9,569.7 L200.8,570.8 L199.8,571.9 L198.7,565.6 L197.6,564.5 L196.5,563.5 L195.4,578.8 L194.3,565.0 L193.2,565.6 L192.1,569.8 L191.0,569.1 L189.9,568.4 L188.8,569.6 L187.7,570.8 L186.6,572.0 L185.5,573.3 L184.4,576.0 L183.3,578.8 L182.2,581.6 L181.1,583.3 L180.0,585.0 L178.9,586.8 L177.8,588.5 L176.7,589.2 L175.6,589.9 L174.5,590.6 L173.4,571.9 L172.3,572.9 L171.2,573.9 L170.1,575.0 L169.0,576.0 L167.9,577.9 L166.8,579.7 L165.7,581.6 L164.6,583.0 L163.5,584.3 L162.4,585.7 L161.3,587.1 L160.2,588.5 L159.1,589.9 L158.0,591.3 L156.9,569.1 L155.8,570.5 L154.8,571.9 L153.7,573.3 L152.6,580.2 L151.5,587.1 L150.4,592.7 L149.3,598.2 L148.2,589.2 L147.1,580.2 L146.0,580.9 L144.9,581.6 L143.8,574.6 L142.7,567.7 L141.6,569.6 L140.5,571.4 L139.4,573.3 L138.3,574.2 L137.2,575.1 L136.1,576.0 L135.0,573.9 L133.9,575.5 L132.8,577.1 L131.7,578.6 L130.6,580.2 L129.5,585.7 L128.4,598.2 L127.3,594.1 L126.2,591.0 L125.1,592.7 L124.0,597.7 L122.9,602.7 L121.8,599.6 L120.7,598.2 L119.6,596.8 L118.5,601.0 L117.4,604.3 L116.3,607.6 L115.2,596.8 L114.1,594.3 L113.0,597.0 L111.9,599.6 L110.8,604.0 L109.8,602.5 L108.7,601.0 L107.6,603.8 L106.5,606.0 L105.4,608.2 L104.3,587.1 L103.2,584.6 L102.1,588.5 L101.0,590.7 L99.9,592.9 L98.8,594.9 L97.7,596.8 L96.6,598.4 L95.5,599.9 L94.4,601.7 L93.3,602.9 L92.2,604.0 L91.1,598.2 L90.0,599.2 L88.9,600.3 L87.8,601.3 L86.7,603.8 L85.6,607.6 L84.5,603.6 L83.4,599.6 L82.3,601.0 L81.2,602.4 L80.1,604.5 L79.0,602.7 L77.9,601.0 L76.8,602.4 L75.7,603.8 L74.6,598.2 L73.5,595.7 L72.4,598.4 L71.3,601.0 L70.2,605.4 L69.1,603.8 L68.0,601.0 L66.9,589.9 L65.9,587.1 L64.8,588.9 L63.7,590.6 L62.6,592.2 L61.5,593.8 L60.4,595.4 L59.3,596.8 L58.2,598.2 L57.1,599.0 L56.0,599.9 L54.9,590.6 L53.8,587.4 L52.7,589.0 L51.6,590.6 L50.5,592.7 L49.4,594.8 L48.3,596.8 L47.2,599.6 L46.1,594.8 L45.0,592.9Z" fill="#EDB120" stroke="#EDB120" stroke-width="0.9" stroke-linejoin="miter"/>
<path d="M45.0,582.3 L46.1,582.2 L47.2,582.1 L48.3,582.0 L49.4,581.9 L50.5,581.8 L51.6,581.7 L52.7,581.6 L53.8,579.1 L54.9,579.0 L56.0,579.0 L57.1,579.0 L58.2,579.0 L59.3,578.9 L60.4,578.9 L61.5,578.9 L62.6,578.9 L63.7,578.8 L64.8,578.8 L65.9,573.3 L66.9,568.1 L68.0,562.9 L69.1,583.0 L70.2,569.8 L71.3,556.6 L72.4,533.0 L73.5,528.9 L74.6,556.6 L75.7,580.2 L76.8,564.9 L77.9,563.5 L79.0,571.9 L80.1,580.2 L81.2,573.3 L82.3,566.3 L83.4,559.4 L84.5,572.2 L85.6,585.0 L86.7,579.5 L87.8,573.9 L88.9,568.4 L90.0,566.7 L91.1,564.9 L92.2,576.0 L93.3,568.4 L94.4,560.8 L95.5,556.6 L96.6,552.4 L97.7,544.1 L98.8,559.4 L99.9,574.6 L101.0,574.3 L102.1,573.9 L103.2,567.0 L104.3,560.1 L105.4,572.2 L106.5,584.3 L107.6,575.7 L108.7,567.0 L109.8,573.9 L110.8,580.9 L111.9,575.0 L113.0,569.1 L114.1,568.4 L115.2,567.7 L116.3,575.3 L117.4,583.0 L118.5,580.0 L119.6,577.0 L120.7,573.9 L121.8,570.8 L122.9,567.7 L124.0,571.9 L125.1,576.0 L126.2,551.8 L127.3,569.1 L128.4,548.3 L129.5,544.5 L130.6,540.7 L131.7,540.5 L132.8,540.3 L133.9,540.1 L135.0,540.0 L136.1,542.7 L137.2,537.2 L138.3,535.8 L139.4,534.4 L140.5,533.0 L141.6,531.6 L142.7,530.3 L143.8,528.9 L144.9,544.1 L146.0,528.9 L147.1,526.1 L148.2,523.3 L149.3,560.8 L150.4,570.5 L151.5,542.7 L152.6,540.7 L153.7,542.7 L154.8,541.1 L155.8,539.5 L156.9,537.9 L158.0,552.4 L159.1,549.0 L160.2,548.6 L161.3,548.3 L162.4,547.9 L163.5,547.6 L164.6,547.2 L165.7,546.9 L166.8,546.7 L167.9,546.5 L169.0,546.2 L170.1,546.0 L171.2,545.8 L172.3,545.5 L173.4,545.2 L174.5,569.1 L175.6,562.2 L176.7,556.3 L177.8,550.4 L178.9,547.6 L180.0,544.8 L181.1,544.6 L182.2,544.4 L183.3,544.1 L184.4,543.1 L185.5,542.0 L186.6,539.0 L187.7,536.0 L188.8,533.0 L189.9,527.5 L191.0,521.9 L192.1,515.7 L193.2,509.5 L194.3,569.0 L195.4,440.9 L196.5,426.2 L197.6,411.5 L198.7,524.5 L199.8,522.7 L200.8,520.8 L201.9,519.0 L203.0,517.7 L204.1,516.3 L205.2,515.0 L206.3,513.2 L207.4,511.5 L208.5,509.7 L209.6,505.0 L210.7,500.4 L211.8,496.7 L212.9,492.9 L214.0,489.2 L215.1,540.0 L216.2,556.6 L217.3,560.8 L218.4,555.2 L219.5,528.2 L220.6,567.0 L221.7,567.0 L222.8,567.0 L223.9,567.0 L225.0,567.0 L226.1,562.9 L227.2,558.7 L228.3,554.5 L229.4,558.3 L230.5,562.2 L231.6,561.9 L232.7,561.7 L233.8,561.5 L234.9,560.3 L236.0,559.2 L237.1,558.0 L238.2,557.1 L239.3,556.1 L240.4,555.2 L241.5,567.7 L242.6,567.6 L243.7,567.6 L244.7,567.5 L245.8,567.4 L246.9,561.3 L248.0,555.2 L249.1,562.9 L250.2,562.6 L251.3,562.3 L252.4,562.0 L253.5,561.7 L254.6,561.5 L255.7,560.5 L256.8,559.6 L257.9,558.7 L259.0,557.6 L260.1,556.6 L261.2,568.0 L262.3,567.9 L263.4,567.8 L264.5,567.8 L265.6,567.7 L266.7,567.6 L267.8,567.4 L268.9,566.1 L270.0,564.8 L271.1,563.5 L272.2,574.6 L273.3,574.5 L274.4,574.5 L275.5,574.4 L276.6,573.8 L277.7,573.2 L278.8,572.6 L279.9,569.3 L281.0,566.1 L282.1,562.9 L283.2,577.4 L284.3,577.3 L285.4,577.2 L286.5,577.1 L287.6,573.5 L288.7,569.9 L289.7,566.3 L290.8,569.4 L291.9,572.6 L293.0,572.3 L294.1,572.1 L295.2,571.8 L296.3,571.6 L297.4,571.4 L298.5,571.2 L299.6,562.9 L300.7,554.5 L301.8,563.2 L302.9,571.9 L304.0,571.2 L305.1,570.5 L306.2,569.8 L307.3,568.4 L308.4,567.0 L309.5,555.9 L310.6,566.0 L311.7,576.0 L312.8,575.6 L313.9,575.1 L315.0,574.6 L316.1,573.0 L317.2,571.4 L318.3,569.8 L319.4,565.2 L320.5,560.5 L321.6,555.9 L322.7,570.5 L323.8,570.0 L324.9,569.4 L326.0,568.9 L327.1,568.4 L328.2,567.4 L329.3,566.3 L330.4,563.1 L331.5,559.8 L332.6,556.6 L333.6,561.8 L334.7,567.0 L335.8,565.4 L336.9,563.8 L338.0,562.2 L339.1,560.4 L340.2,558.7 L341.3,557.0 L342.4,555.2 L343.5,551.8 L344.6,548.3 L345.7,544.8 L346.8,567.0 L347.9,565.4 L349.0,563.8 L350.1,562.2 L351.2,561.7 L352.3,561.2 L353.4,560.8 L354.5,568.4 L355.6,576.0 L356.7,575.1 L357.8,574.2 L358.9,573.3 L360.0,571.3 L361.1,569.4 L362.2,567.5 L363.3,565.6 L364.4,573.3 L365.5,571.9 L366.6,570.5 L367.7,566.3 L368.8,562.2 L369.9,559.8 L371.0,557.5 L372.1,555.2 L373.2,543.8 L374.3,532.3 L375.4,553.5 L376.5,574.6 L377.6,573.6 L378.6,572.6 L379.7,571.5 L380.8,570.5 L381.9,566.8 L383.0,563.1 L384.1,559.4 L385.2,572.6 L386.3,570.8 L387.4,569.1 L388.5,565.6 L389.6,562.2 L390.7,557.6 L391.8,553.1 L392.9,574.6 L394.0,572.6 L395.1,570.5 L396.2,568.4 L397.3,562.2 L398.4,569.1 L399.5,576.0 L400.6,574.4 L401.7,572.8 L402.8,571.2 L403.9,568.9 L405.0,566.5 L406.1,564.2 L407.2,571.9 L408.3,579.5 L409.4,578.3 L410.5,577.2 L411.6,576.0 L412.7,570.7 L413.8,565.4 L414.9,560.1 L416.0,567.4 L417.1,574.6 L418.2,573.3 L419.3,571.9 L420.4,570.5 L421.5,569.1 L422.5,563.2 L423.6,557.3 L424.7,564.9 L425.8,572.6 L426.9,571.5 L428.0,570.5 L429.1,569.4 L430.2,568.4 L431.3,567.0 L432.4,565.6 L433.5,570.1 L434.6,574.6 L435.7,572.6 L436.8,570.5 L437.9,568.4 L439.0,566.5 L440.1,564.7 L441.2,562.9 L442.3,561.5 L443.4,560.1 L444.5,568.4 L445.6,564.2 L446.7,560.1 L447.8,556.6 L448.9,573.3 L450.0,573.1 L451.1,572.9 L452.2,572.7 L453.3,572.6 L454.4,566.3 L455.5,565.4 L456.6,564.5 L457.7,563.5 L458.8,562.9 L459.9,562.2 L461.0,561.5 L462.1,560.8 L463.2,566.7 L464.3,572.6 L465.4,572.4 L466.5,572.2 L467.5,572.0 L468.6,571.9 L469.7,571.9 L470.8,571.9 L471.9,571.2 L473.0,567.0 L474.1,573.9 L475.2,572.6 L476.3,571.2 L477.4,569.8 L478.5,568.4 L479.6,567.0 L480.7,565.6 L481.8,558.7 L482.9,571.2 L484.0,571.2 L485.1,571.2 L486.2,571.2 L487.3,571.2 L488.4,566.3 L489.5,568.7 L490.6,571.2 L491.7,570.2 L492.8,569.3 L493.9,568.4 L495.0,562.9 L496.1,565.6 L497.2,568.4 L498.3,568.1 L499.4,567.7 L500.5,567.4 L501.6,567.0 L502.7,566.1 L503.8,565.2 L504.9,564.2 L506.0,562.7 L507.1,561.1 L508.2,559.6 L509.3,558.0 L510.4,556.1 L511.4,554.2 L512.5,552.3 L513.6,550.4 L514.7,567.7 L515.8,567.4 L516.9,567.1 L518.0,566.9 L519.1,566.6 L520.2,566.3 L521.3,566.1 L522.4,566.0 L523.5,565.8 L524.6,565.6 L525.7,565.6 L526.8,565.5 L527.9,565.5 L529.0,565.4 L530.1,565.4 L531.2,565.3 L532.3,565.3 L533.4,565.2 L534.5,569.1 L535.6,569.1 L536.7,569.0 L537.8,569.0 L538.9,568.9 L540.0,568.9 L541.1,568.9 L542.2,568.8 L543.3,568.8 L544.4,568.8 L545.5,568.8 L546.6,568.8 L547.7,568.8 L548.8,568.8 L549.9,568.8 L551.0,568.8 L552.1,568.8 L553.2,568.8 L554.3,568.8 L555.4,569.1 L556.4,569.0 L557.5,568.8 L558.6,568.7 L559.7,568.5 L560.8,568.4 L561.9,567.4 L563.0,566.3 L564.1,565.3 L565.2,564.2 L566.3,562.2 L567.4,560.1 L568.5,558.0 L569.6,555.2 L570.7,552.4 L571.8,547.6 L572.9,556.6 L574.0,565.6 L575.1,564.9 L576.2,564.2 L577.3,563.5 L578.4,563.1 L579.5,562.7 L580.6,562.3 L581.7,561.9 L582.8,561.5 L583.9,560.2 L585.0,559.0 L586.1,557.8 L587.2,556.6 L588.3,554.5 L589.4,552.4 L590.5,550.4 L591.6,545.5 L592.7,557.0 L593.8,568.4 L594.9,567.0 L596.0,565.6 L597.1,564.2 L598.2,564.0 L599.3,563.7 L600.4,563.4 L601.4,563.1 L602.5,562.9 L603.6,562.6 L604.7,562.3 L605.8,562.0 L606.9,561.7 L608.0,561.5 L609.1,560.5 L610.2,559.6 L611.3,558.7 L612.4,562.9 L613.5,561.9 L614.6,561.0 L615.7,560.1 L616.8,559.5 L617.9,559.0 L619.0,558.4 L620.1,557.9 L621.2,557.3 L622.3,555.0 L623.4,552.7 L624.5,550.4 L625.6,546.7 L626.7,543.0 L627.8,539.3 L628.9,529.9 L630.0,520.5 L631.1,544.1 L632.2,567.7 L633.3,565.9 L634.4,565.1 L635.5,564.3 L636.6,563.6 L637.7,560.7 L638.8,557.8 L639.9,554.9 L641.0,552.0 L642.1,546.8 L643.2,541.5 L644.3,536.3 L645.3,531.1 L646.4,513.7 L647.5,496.3 L648.6,483.0 L649.7,469.7 L650.8,518.4 L651.9,567.0 L653.0,567.0 L654.1,567.0 L655.2,567.0 L656.3,567.0 L657.4,567.0 L658.5,566.2 L659.6,565.4 L660.7,565.4 L661.8,565.4 L662.9,565.4 L664.0,565.4 L665.1,565.4 L666.2,565.4" fill="none" stroke="#000" stroke-width="1.05" stroke-linejoin="miter"/>
<path d="M45.0,577.2 L46.1,577.1 L47.2,578.5 L48.3,576.0 L49.4,573.9 L50.5,571.9 L51.6,569.8 L52.7,567.9 L53.8,566.1 L54.9,569.1 L56.0,578.2 L57.1,577.3 L58.2,576.4 L59.3,574.9 L60.4,573.4 L61.5,572.0 L62.6,570.5 L63.7,569.1 L64.8,567.3 L65.9,565.5 L66.9,568.7 L68.0,580.9 L69.1,583.3 L70.2,583.4 L71.3,578.8 L72.4,576.8 L73.5,574.8 L74.6,577.1 L75.7,580.6 L76.8,580.7 L77.9,579.1 L79.0,580.9 L80.1,582.6 L81.2,580.5 L82.3,579.5 L83.4,578.5 L84.5,580.1 L85.6,584.2 L86.7,581.6 L87.8,579.6 L88.9,578.8 L90.0,577.9 L91.1,577.1 L92.2,579.6 L93.3,581.1 L94.4,579.8 L95.5,578.2 L96.6,576.4 L97.7,574.6 L98.8,573.0 L99.9,571.3 L101.0,569.3 L102.1,567.4 L103.2,564.7 L104.3,565.3 L105.4,577.6 L106.5,586.2 L107.6,583.0 L108.7,580.5 L109.8,580.3 L110.8,582.4 L111.9,579.5 L113.0,577.0 L114.1,574.5 L115.2,574.5 L116.3,581.4 L117.4,584.6 L118.5,580.2 L119.6,577.1 L120.7,576.7 L121.8,578.5 L122.9,581.0 L124.0,576.8 L125.1,572.6 L126.2,570.3 L127.3,572.9 L128.4,576.7 L129.5,565.6 L130.6,561.5 L131.7,559.3 L132.8,557.4 L133.9,555.4 L135.0,553.5 L136.1,555.2 L137.2,555.5 L138.3,554.0 L139.4,552.4 L140.5,550.7 L141.6,549.0 L142.7,547.2 L143.8,553.0 L144.9,558.7 L146.0,559.4 L147.1,560.1 L148.2,568.7 L149.3,577.4 L150.4,573.3 L151.5,567.7 L152.6,561.5 L153.7,553.1 L154.8,551.6 L155.8,550.1 L156.9,548.6 L158.0,571.2 L159.1,569.9 L160.2,568.6 L161.3,567.4 L162.4,566.0 L163.5,564.6 L164.6,563.2 L165.7,561.8 L166.8,560.0 L167.9,558.1 L169.0,556.3 L170.1,555.0 L171.2,553.8 L172.3,552.6 L173.4,551.4 L174.5,570.1 L175.6,569.6 L176.7,569.0 L177.8,568.4 L178.9,566.6 L180.0,564.8 L181.1,562.9 L182.2,561.1 L183.3,558.5 L184.4,555.8 L185.5,553.1 L186.6,551.8 L187.7,550.5 L188.8,549.2 L189.9,548.6 L191.0,549.0 L192.1,549.3 L193.2,544.8 L194.3,544.1 L195.4,559.4 L196.5,542.8 L197.6,544.6 L198.7,545.9 L199.8,549.7 L200.8,549.8 L201.9,548.8 L203.0,547.8 L204.1,546.8 L205.2,545.8 L206.3,544.2 L207.4,542.6 L208.5,540.9 L209.6,539.3 L210.7,537.2 L211.8,535.0 L212.9,532.9 L214.0,536.6 L215.1,555.8 L216.2,561.2 L217.3,558.6 L218.4,555.9 L219.5,552.8 L220.6,555.0 L221.7,566.0 L222.8,563.0 L223.9,560.1 L225.0,557.0 L226.1,553.8 L227.2,550.7 L228.3,547.6 L229.4,549.0 L230.5,550.4 L231.6,549.4 L232.7,548.4 L233.8,547.4 L234.9,545.2 L236.0,542.0 L237.1,542.0 L238.2,540.3 L239.3,538.6 L240.4,546.2 L241.5,559.0 L242.6,560.8 L243.7,558.7 L244.7,556.6 L245.8,554.5 L246.9,551.1 L248.0,547.7 L249.1,550.4 L250.2,560.4 L251.3,558.9 L252.4,557.3 L253.5,555.7 L254.6,554.2 L255.7,551.9 L256.8,549.7 L257.9,547.4 L259.0,545.2 L260.1,562.9 L261.2,562.6 L262.3,562.4 L263.4,562.2 L264.5,559.8 L265.6,557.5 L266.7,555.2 L267.8,553.7 L268.9,552.3 L270.0,550.8 L271.1,549.3 L272.2,569.8 L273.3,568.5 L274.4,567.2 L275.5,566.0 L276.6,564.2 L277.7,562.5 L278.8,560.8 L279.9,558.7 L281.0,556.6 L282.1,554.5 L283.2,569.8 L284.3,571.2 L285.4,572.6 L286.5,571.7 L287.6,569.7 L288.7,567.6 L289.7,565.6 L290.8,572.6 L291.9,579.5 L293.0,578.8 L294.1,578.1 L295.2,577.4 L296.3,576.2 L297.4,575.0 L298.5,564.9 L299.6,563.9 L300.7,562.9 L301.8,566.3 L302.9,570.0 L304.0,568.7 L305.1,567.5 L306.2,566.3 L307.3,564.7 L308.4,563.1 L309.5,561.5 L310.6,569.8 L311.7,576.7 L312.8,575.0 L313.9,573.3 L315.0,571.5 L316.1,569.8 L317.2,567.0 L318.3,564.2 L319.4,562.2 L320.5,560.1 L321.6,558.0 L322.7,569.8 L323.8,567.7 L324.9,565.6 L326.0,563.5 L327.1,561.7 L328.2,559.8 L329.3,558.0 L330.4,556.1 L331.5,554.2 L332.6,552.3 L333.6,550.4 L334.7,556.6 L335.8,555.2 L336.9,553.8 L338.0,552.4 L339.1,550.4 L340.2,548.3 L341.3,546.2 L342.4,544.1 L343.5,541.6 L344.6,539.0 L345.7,536.5 L346.8,564.2 L347.9,563.1 L349.0,561.9 L350.1,560.8 L351.2,559.4 L352.3,558.0 L353.4,556.6 L354.5,555.2 L355.6,576.7 L356.7,576.3 L357.8,575.8 L358.9,575.3 L360.0,573.5 L361.1,571.7 L362.2,569.9 L363.3,568.1 L364.4,572.6 L365.5,571.5 L366.6,570.5 L367.7,568.7 L368.8,567.0 L369.9,565.3 L371.0,563.5 L372.1,561.7 L373.2,559.8 L374.3,557.6 L375.4,562.2 L376.5,578.8 L377.6,576.3 L378.6,573.7 L379.7,571.2 L380.8,569.6 L381.9,568.1 L383.0,566.5 L384.1,564.9 L385.2,572.9 L386.3,573.4 L387.4,573.9 L388.5,571.1 L389.6,568.3 L390.7,569.1 L391.8,573.6 L392.9,578.1 L394.0,576.4 L395.1,574.7 L396.2,573.0 L397.3,573.3 L398.4,577.4 L399.5,575.0 L400.6,572.6 L401.7,573.7 L402.8,574.9 L403.9,576.0 L405.0,572.6 L406.1,569.1 L407.2,574.8 L408.3,580.5 L409.4,579.5 L410.5,578.5 L411.6,577.4 L412.7,574.6 L413.8,571.7 L414.9,568.9 L416.0,569.6 L417.1,575.0 L418.2,573.5 L419.3,572.0 L420.4,570.6 L421.5,569.1 L422.5,567.0 L423.6,564.9 L424.7,562.9 L425.8,574.6 L426.9,573.3 L428.0,571.9 L429.1,570.5 L430.2,568.5 L431.3,566.5 L432.4,564.5 L433.5,562.5 L434.6,576.4 L435.7,575.3 L436.8,574.3 L437.9,573.3 L439.0,570.9 L440.1,568.6 L441.2,566.3 L442.3,564.5 L443.4,562.6 L444.5,560.8 L445.6,558.1 L446.7,555.5 L447.8,552.8 L448.9,576.0 L450.0,575.1 L451.1,574.1 L452.2,573.2 L453.3,572.2 L454.4,570.0 L455.5,567.7 L456.6,570.8 L457.7,569.6 L458.8,568.4 L459.9,567.2 L461.0,566.0 L462.1,564.5 L463.2,563.0 L464.3,561.5 L465.4,575.3 L466.5,574.4 L467.5,573.5 L468.6,572.6 L469.7,569.6 L470.8,566.7 L471.9,565.3 L473.0,567.7 L474.1,576.7 L475.2,575.1 L476.3,573.5 L477.4,571.9 L478.5,570.2 L479.6,568.5 L480.7,566.8 L481.8,566.7 L482.9,569.1 L484.0,568.5 L485.1,567.9 L486.2,567.4 L487.3,563.0 L488.4,558.7 L489.5,567.0 L490.6,575.3 L491.7,573.9 L492.8,572.6 L493.9,571.2 L495.0,568.1 L496.1,567.7 L497.2,569.1 L498.3,569.3 L499.4,568.1 L500.5,566.8 L501.6,565.6 L502.7,563.5 L503.8,561.5 L504.9,545.9 L506.0,552.6 L507.1,550.7 L508.2,539.3 L509.3,547.2 L510.4,550.6 L511.4,550.8 L512.5,551.1 L513.6,545.7 L514.7,554.9 L515.8,563.8 L516.9,563.7 L518.0,563.5 L519.1,562.2 L520.2,560.8 L521.3,559.4 L522.4,556.6 L523.5,553.8 L524.6,545.5 L525.7,548.3 L526.8,551.1 L527.9,544.1 L529.0,537.2 L530.1,547.6 L531.2,545.5 L532.3,543.4 L533.4,541.4 L534.5,556.6 L535.6,567.7 L536.7,566.3 L537.8,564.9 L538.9,563.5 L540.0,558.2 L541.1,556.1 L542.2,554.0 L543.3,551.9 L544.4,556.9 L545.5,552.5 L546.6,548.1 L547.7,543.8 L548.8,549.9 L549.9,547.6 L551.0,545.2 L552.1,542.8 L553.2,549.6 L554.3,567.3 L555.4,565.7 L556.4,564.0 L557.5,562.4 L558.6,560.8 L559.7,559.2 L560.8,552.0 L561.9,544.7 L563.0,547.9 L564.1,551.1 L565.2,544.1 L566.3,537.0 L567.4,542.5 L568.5,548.0 L569.6,545.6 L570.7,543.3 L571.8,540.9 L572.9,549.6 L574.0,565.9 L575.1,563.8 L576.2,561.6 L577.3,559.4 L578.4,557.3 L579.5,552.0 L580.6,546.7 L581.7,541.5 L582.8,544.7 L583.9,548.0 L585.0,541.3 L586.1,534.5 L587.2,540.3 L588.3,546.1 L589.4,543.7 L590.5,541.3 L591.6,539.0 L592.7,549.6 L593.8,558.2 L594.9,566.8 L596.0,564.3 L597.1,561.7 L598.2,559.2 L599.3,552.9 L600.4,546.7 L601.4,549.3 L602.5,551.9 L603.6,545.4 L604.7,539.0 L605.8,544.3 L606.9,549.6 L608.0,547.6 L609.1,545.7 L610.2,543.8 L611.3,555.3 L612.4,563.2 L613.5,561.2 L614.6,559.2 L615.7,557.3 L616.8,552.2 L617.9,547.1 L619.0,542.1 L620.1,537.0 L621.2,540.6 L622.3,544.2 L623.4,537.4 L624.5,530.7 L625.6,536.1 L626.7,541.5 L627.8,539.3 L628.9,537.2 L630.0,535.1 L631.1,549.6 L632.2,566.6 L633.3,564.3 L634.4,561.9 L635.5,559.6 L636.6,557.3 L637.7,552.8 L638.8,548.3 L639.9,543.8 L641.0,546.9 L642.1,549.9 L643.2,545.3 L644.3,540.7 L645.3,536.1 L646.4,547.6 L647.5,544.5 L648.6,541.5 L649.7,545.5 L650.8,549.6 L651.9,557.1 L653.0,564.7 L654.1,561.0 L655.2,557.3 L656.3,553.9 L657.4,550.5 L658.5,547.1 L659.6,543.7 L660.7,540.3 L661.8,544.2 L662.9,548.0 L664.0,546.0 L665.1,543.9 L666.2,541.8" fill="none" stroke="#f21b10" stroke-width="1.9" stroke-dasharray="6.5 5" stroke-linejoin="miter"/>
</g>
<rect x="43.9" y="367.8" width="623.4" height="241.2" fill="none" stroke="#262626" stroke-width="1.1"/>
<text x="43.9" y="634.9" text-anchor="middle" style="font-size:21.10px">0</text>
<text x="121.8" y="634.9" text-anchor="middle" style="font-size:21.10px">71</text>
<text x="199.8" y="634.9" text-anchor="middle" style="font-size:21.10px">142</text>
<text x="277.7" y="634.9" text-anchor="middle" style="font-size:21.10px">213</text>
<text x="355.6" y="634.9" text-anchor="middle" style="font-size:21.10px">284</text>
<text x="433.5" y="634.9" text-anchor="middle" style="font-size:21.10px">355</text>
<text x="511.4" y="634.9" text-anchor="middle" style="font-size:21.10px">426</text>
<text x="589.4" y="634.9" text-anchor="middle" style="font-size:21.10px">497</text>
<text x="667.3" y="634.9" text-anchor="middle" style="font-size:21.10px">568</text>
<text x="36.7" y="616.7" text-anchor="end">0</text>
<text x="36.7" y="536.3" text-anchor="end">2</text>
<text x="36.7" y="455.9" text-anchor="end">4</text>
<text x="36.7" y="375.5" text-anchor="end">6</text>
<path d="M121.8,609.0 v-6.3 M121.8,367.8 v6.3 M199.8,609.0 v-6.3 M199.8,367.8 v6.3 M277.7,609.0 v-6.3 M277.7,367.8 v6.3 M355.6,609.0 v-6.3 M355.6,367.8 v6.3 M433.5,609.0 v-6.3 M433.5,367.8 v6.3 M511.4,609.0 v-6.3 M511.4,367.8 v6.3 M589.4,609.0 v-6.3 M589.4,367.8 v6.3 M43.9,528.6 h6.3 M667.3,528.6 h-6.3 M43.9,448.2 h6.3 M667.3,448.2 h-6.3" stroke="#262626" stroke-width="1.1" fill="none"/>
<text x="355.6" y="660.4" text-anchor="middle">Sample number</text>
<text transform="translate(19.1,487.4) rotate(-90)" text-anchor="middle">IRI [m/km]</text>
<text x="340.8" y="693.1" text-anchor="middle" style="font-size:30.5px">(b) static GPR</text>
<rect x="80.6" y="373.8" width="548.8" height="27.3" fill="#fff" stroke="#262626" stroke-width="1.1"/>
<path d="M84.2,387.4 h31.8" stroke="#000" stroke-width="1.15"/>
<text x="119.7" y="394.7" style="font-size:21.15px" textLength="114.3" lengthAdjust="spacingAndGlyphs">Actual vaules</text>
<path d="M241.6,387.4 h33.2" stroke="#f21b10" stroke-width="1.8" stroke-dasharray="7.12 5.93"/>
<text x="278.1" y="394.7" style="font-size:21.15px" textLength="138.5" lengthAdjust="spacingAndGlyphs">Predicted values</text>
<rect x="424.2" y="378.1" width="31.8" height="18.8" fill="#EDB120"/>
<text x="459.3" y="394.7" style="font-size:21.15px" textLength="165.7" lengthAdjust="spacingAndGlyphs">Prediction intervals</text>
</g>
</svg>
</body></html>
